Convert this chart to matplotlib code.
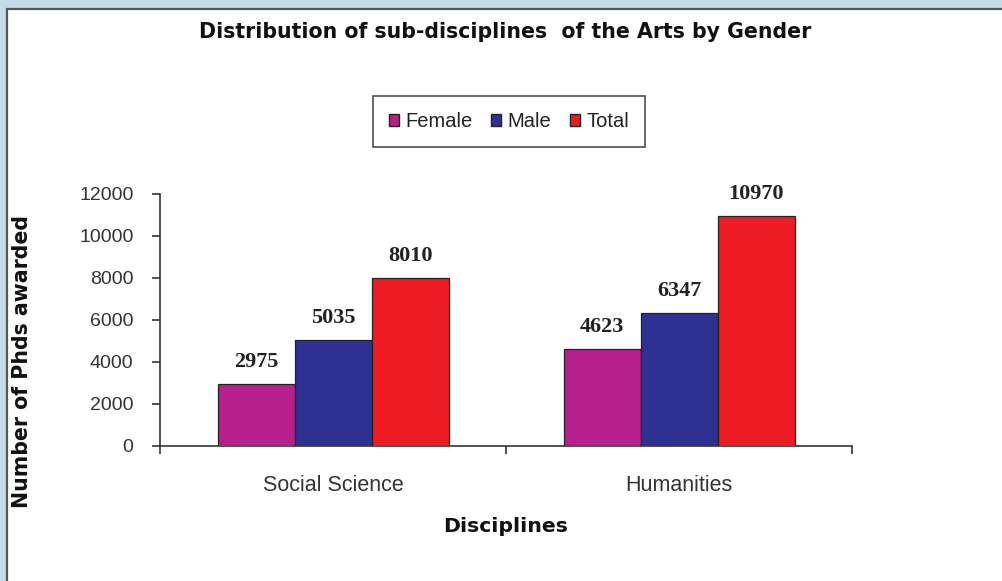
import matplotlib
matplotlib.use("Agg")
import matplotlib.pyplot as plt
from matplotlib.patches import Rectangle, Patch
import numpy as np

# Data
disciplines = ["Social Science", "Humanities"]
series_names = ["Female", "Male", "Total"]
female = [2975, 4623]
male = [5035, 6347]
total = [8010, 10970]
y_ticks = [0, 2000, 4000, 6000, 8000, 10000, 12000]

colors = ["#b61f8c", "#2e3192", "#ed1c24"]

W, H = 1003, 581
fig = plt.figure(figsize=(W / 100, H / 100), dpi=100)
fig.patch.set_facecolor("#c5dce8")

# White chart panel with a grey border on the left/top
panel = Rectangle((7 / W, -0.01), 1.0, 1 - 9 / H + 0.01, transform=fig.transFigure,
                  facecolor="white", edgecolor="#555555", linewidth=1.6, zorder=-5)
fig.patches.append(panel)

ax = fig.add_axes([160 / W, 1 - 446 / H, (852.5 - 160) / W, (446 - 194) / H])
ax.set_facecolor("none")
ax.set_zorder(2)

x = np.arange(len(disciplines))
bw = 0.2225
for i, (vals, c) in enumerate(zip([female, male, total], colors)):
    bars = ax.bar(x + (i - 1) * bw, vals, width=bw, color=c, edgecolor="#222222",
                  linewidth=0.9, label=series_names[i], zorder=3)
    for b, v in zip(bars, vals):
        ax.annotate(f"{v}", (b.get_x() + b.get_width() / 2, v),
                    xytext=(0, 12), textcoords="offset pixels",
                    ha="center", va="bottom", fontsize=16, fontweight="bold",
                    family="Liberation Serif", color="#222222")

ax.set_xlim(-0.5, 1.5)
ax.set_ylim(0, 12000)
ax.set_yticks(y_ticks)
ax.set_yticklabels([str(t) for t in y_ticks], family="Liberation Sans",
                   fontsize=14, color="#333333")
ax.set_xticks([-0.5, 0.5, 1.5])
ax.set_xticklabels([])
ax.set_xticks(x, minor=True)
ax.set_xticklabels(disciplines, minor=True, family="Liberation Sans",
                   fontsize=15.5, color="#333333")
ax.tick_params(axis="x", which="major", direction="out", length=6, width=1.2,
               color="#333333")
ax.tick_params(axis="x", which="minor", length=0, pad=21)
ax.tick_params(axis="y", direction="out", length=6, width=1.2, color="#333333", pad=13)

for s in ["top", "right"]:
    ax.spines[s].set_visible(False)
for s in ["left", "bottom"]:
    ax.spines[s].set_color("#333333")
    ax.spines[s].set_linewidth(1.2)

fig.text(505 / W, 1 - 32 / H, "Distribution of sub-disciplines  of the Arts by Gender",
         ha="center", va="center", fontsize=14.8, fontweight="bold",
         family="DejaVu Sans", color="#111111")
fig.text(506 / W, 1 - 527 / H, "Disciplines", ha="center", va="center",
         fontsize=14.7, fontweight="bold", family="DejaVu Sans", color="#111111")
fig.text(22 / W, 1 - 362 / H, "Number of Phds awarded", ha="center", va="center",
         rotation=90, fontsize=14.8, fontweight="bold", family="DejaVu Sans",
         color="#111111")

handles = [Patch(facecolor=c, edgecolor="#222222", linewidth=1.0) for c in colors]
leg = fig.legend(handles, series_names, loc="center",
                 bbox_to_anchor=(509 / W, 1 - 121.5 / H), ncol=3,
                 prop={"family": "Liberation Sans", "size": 14.5},
                 frameon=True, fancybox=False, handlelength=0.5, handleheight=0.5,
                 handletextpad=0.3, columnspacing=0.95, borderpad=0.8)
leg.get_frame().set_edgecolor("#222222")
leg.get_frame().set_linewidth(1.2)
for t in leg.get_texts():
    t.set_color("#222222")

fig.savefig("out.png", dpi=100, facecolor=fig.get_facecolor())
